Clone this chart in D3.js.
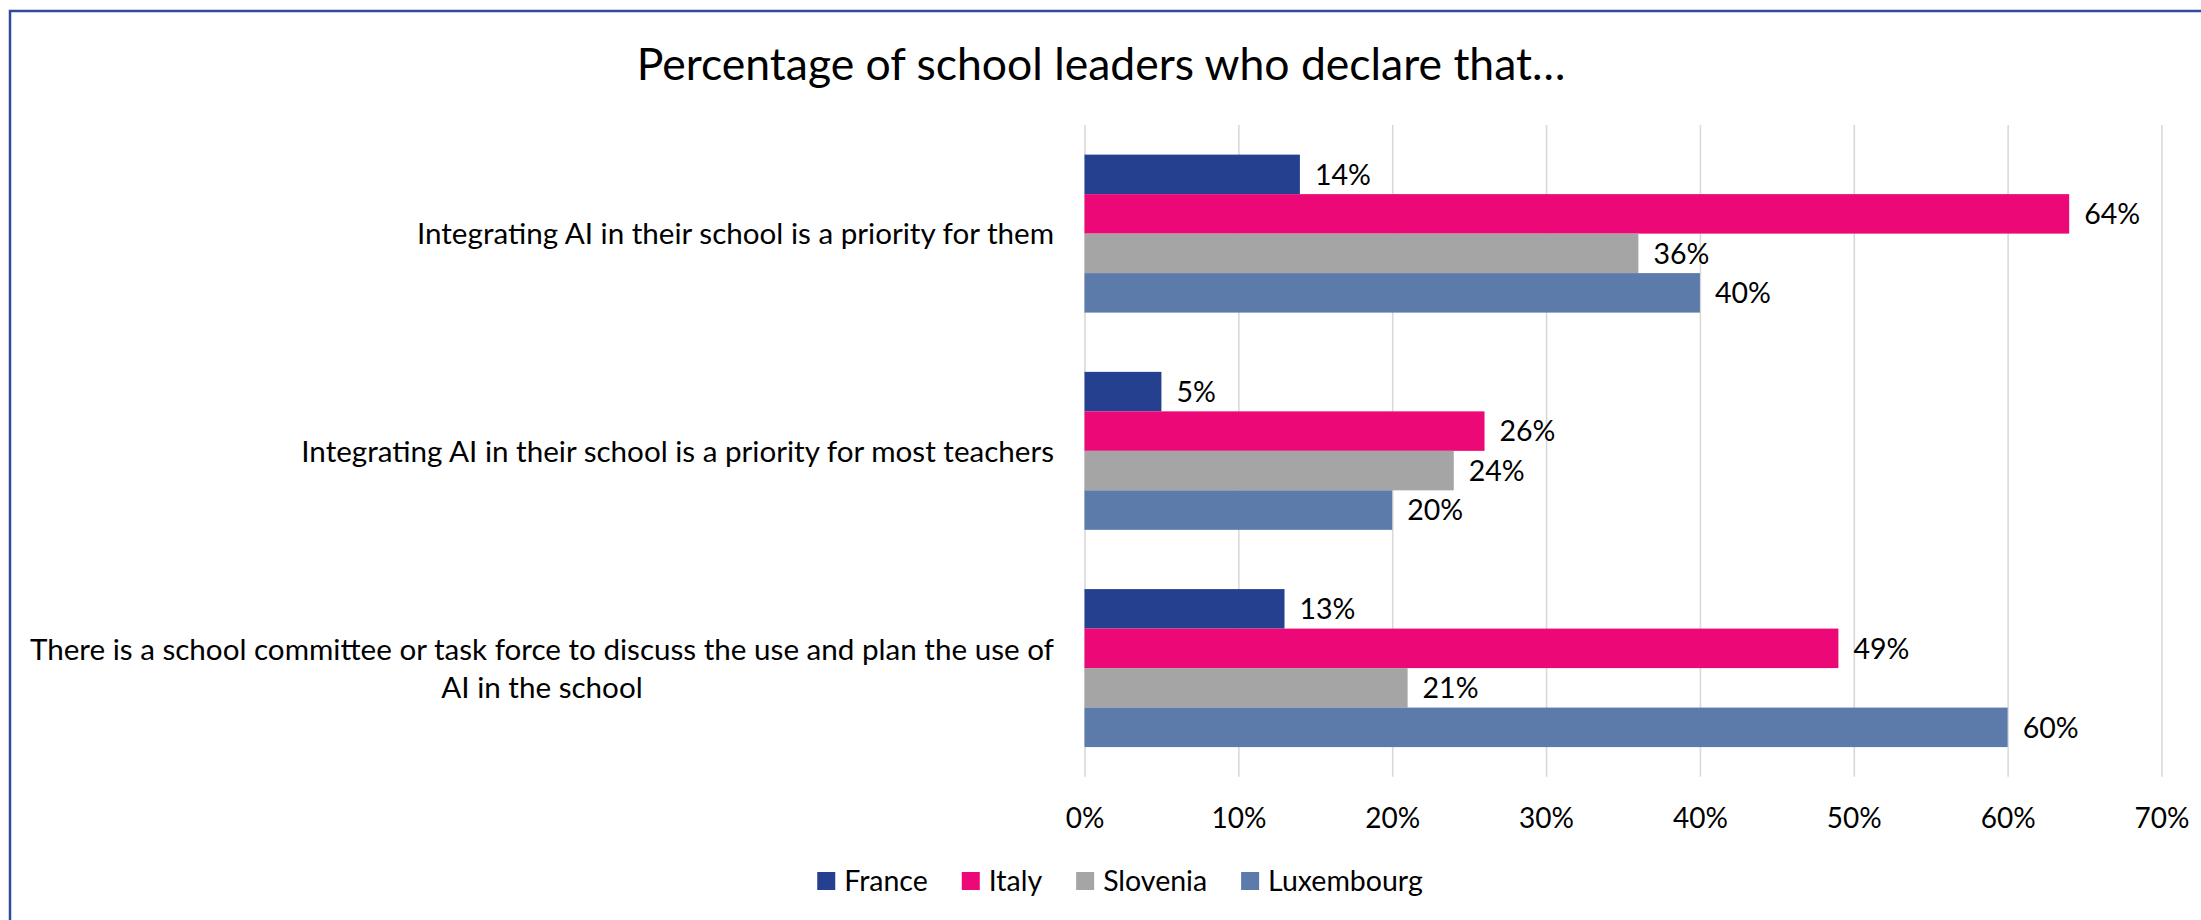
<!DOCTYPE html>
<html>
<head>
<meta charset="utf-8">
<script src="https://cdn.jsdelivr.net/npm/d3@7"></script>
<style>
  html, body { margin: 0; padding: 0; background: #ffffff; }
  svg { display: block; }
  text { font-family: Lato, "Open Sans", sans-serif; fill: #000; }
</style>
</head>
<body>
<svg id="chart" width="2201" height="920"></svg>
<script>
// Survey statements (one group of bars per statement)
const categories = [
  "Integrating AI in their school is a priority for them",
  "Integrating AI in their school is a priority for most teachers",
  "There is a school committee or task force to discuss the use and plan the use of AI in the school"
];

// Countries in the order they appear in each group and in the legend
const countries = ["France", "Italy", "Slovenia", "Luxembourg"];

// Percent of school leaders per statement
const france     = [14, 5, 13];
const italy      = [64, 26, 49];
const slovenia   = [36, 24, 21];
const luxembourg = [40, 20, 60];

// Value axis ticks (percent)
const tickValues = [0, 10, 20, 30, 40, 50, 60, 70];

const titleText = "Percentage of school leaders who declare that…";

const countryColors = ["#25408F", "#ED0877", "#A5A5A5", "#5C7BAA"];

const seriesValues = [france, italy, slovenia, luxembourg];
const rows = categories.map((c, i) => ({
  category: c,
  values: countries.map((k, j) => ({ country: k, value: seriesValues[j][i] }))
}));

const svg = d3.select("#chart");
const W = 2201, H = 920;
const plot = { left: 1084.5, right: 2161.5, top: 125, bottom: 776.7 };

// Outer frame
svg.append("rect")
  .attr("x", 10).attr("y", 11)
  .attr("width", W + 20).attr("height", H + 20)
  .attr("fill", "none")
  .attr("stroke", "#2F4B9D")
  .attr("stroke-width", 2.5);

// Title
svg.append("text")
  .attr("x", 1101).attr("y", 80)
  .attr("text-anchor", "middle")
  .style("font-size", "44.5px")
  .text(titleText);

const x = d3.scaleLinear().domain([0, 70]).range([plot.left, plot.right]);
const y = d3.scaleBand().domain(categories)
  .range([plot.top, plot.bottom])
  .paddingInner(1.5 / 5.5)
  .paddingOuter(0.75 / 5.5);
const yInner = d3.scaleBand().domain(countries).range([0, y.bandwidth()]);
const color = d3.scaleOrdinal().domain(countries).range(countryColors);

// Vertical gridlines
const grid = svg.append("g")
  .attr("transform", `translate(0,${plot.bottom})`)
  .call(d3.axisBottom(x).tickValues(tickValues).tickSize(-(plot.bottom - plot.top)).tickFormat(""));
grid.select(".domain").remove();
grid.selectAll(".tick line").attr("stroke", "#D9D9D9").attr("stroke-width", 1.6);

// Value axis labels
const xAxis = svg.append("g")
  .attr("transform", `translate(0,${plot.bottom})`)
  .call(d3.axisBottom(x).tickValues(tickValues).tickSize(0).tickPadding(31).tickFormat(d => d + "%"));
xAxis.select(".domain").remove();
xAxis.selectAll("text")
  .style("font-size", "28px")
  .style("font-family", "Lato, 'Open Sans', sans-serif")
  .attr("fill", "#000");

// Bars
const groups = svg.append("g").selectAll("g")
  .data(rows)
  .join("g")
  .attr("transform", d => `translate(0,${y(d.category)})`);

groups.selectAll("rect")
  .data(d => d.values)
  .join("rect")
  .attr("x", x(0))
  .attr("y", d => yInner(d.country))
  .attr("width", d => x(d.value) - x(0))
  .attr("height", yInner.bandwidth())
  .attr("fill", d => color(d.country));

// Value labels
groups.selectAll("text.val")
  .data(d => d.values)
  .join("text")
  .attr("class", "val")
  .attr("x", d => x(d.value) + 15)
  .attr("y", d => yInner(d.country) + yInner.bandwidth() / 2)
  .attr("dy", "0.36em")
  .style("font-size", "28.5px")
  .text(d => d.value + "%");

// Category labels, wrapped and centred as a block that ends at the axis
const labelRight = 1054, labelMax = 1045, lineH = 38;
const catFont = "29.6px";
const catG = svg.append("g");
categories.forEach(cat => {
  const t = catG.append("text").style("font-size", catFont).attr("text-anchor", "middle");
  const words = cat.split(" ");
  const lines = [];
  let cur = [];
  const probe = catG.append("text").style("font-size", catFont);
  words.forEach(w => {
    const trial = cur.concat(w).join(" ");
    probe.text(trial);
    if (probe.node().getComputedTextLength() > labelMax && cur.length) {
      lines.push(cur.join(" "));
      cur = [w];
    } else {
      cur.push(w);
    }
  });
  lines.push(cur.join(" "));
  let blockW = 0;
  lines.forEach(l => { probe.text(l); blockW = Math.max(blockW, probe.node().getComputedTextLength()); });
  probe.remove();
  const cx = labelRight - blockW / 2;
  const cy = y(cat) + y.bandwidth() / 2;
  lines.forEach((l, i) => {
    t.append("tspan")
      .attr("x", cx)
      .attr("y", cy + (i - (lines.length - 1) / 2) * lineH)
      .attr("dy", "0.36em")
      .text(l);
  });
});

// Legend
const legend = svg.append("g");
const legendY = 881, sw = 18, swGap = 9, itemGap = 34;
const items = legend.selectAll("g").data(countries).join("g");
items.append("rect")
  .attr("width", sw).attr("height", sw)
  .attr("y", legendY - sw / 2)
  .attr("fill", d => color(d));
items.append("text")
  .attr("x", sw + swGap)
  .attr("y", legendY)
  .attr("dy", "0.36em")
  .style("font-size", "28.5px")
  .text(d => d);
let offs = 0;
const widths = [];
items.each(function () {
  const w = sw + swGap + d3.select(this).select("text").node().getComputedTextLength();
  widths.push(w);
});
const totalW = d3.sum(widths) + itemGap * (widths.length - 1);
let startX = 1120 - totalW / 2;
items.attr("transform", (d, i) => {
  const tx = startX + offs;
  offs += widths[i] + itemGap;
  return `translate(${tx},0)`;
});
</script>
</body>
</html>
